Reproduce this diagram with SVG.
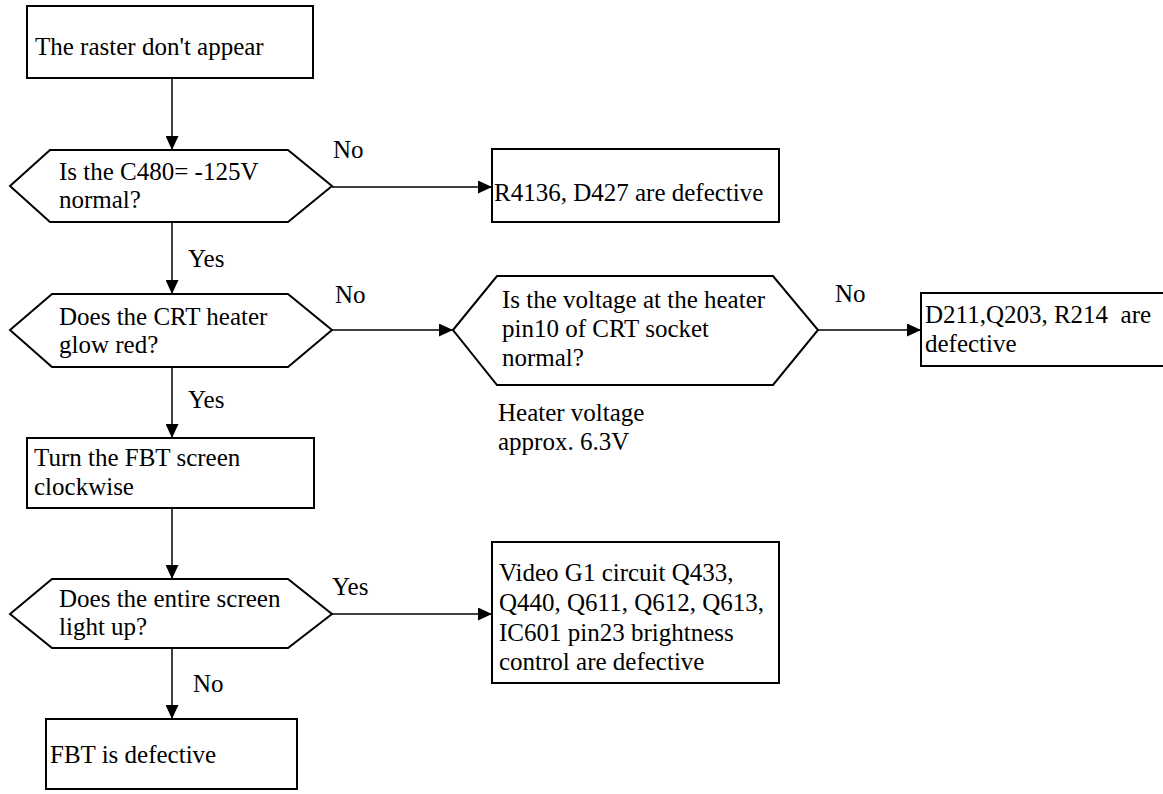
<svg xmlns="http://www.w3.org/2000/svg" width="1163" height="794" viewBox="0 0 1163 794">
<style>
.shape{fill:#fff;stroke:#000;stroke-width:2}
.conn{fill:none;stroke:#000;stroke-width:1.5}
.t{font-family:'Liberation Serif', 'Times New Roman', 'DejaVu Serif', serif;font-size:25px;fill:#000}
</style>
<defs>
<marker id="arr" markerUnits="userSpaceOnUse" markerWidth="15" markerHeight="13" refX="14" refY="6.5" orient="auto">
<path d="M0,0 L14,6.5 L0,13 z" fill="#000"/>
</marker>
</defs>
<rect width="1163" height="794" fill="#fff"/>
<g id="connectors">
<path class="conn" d="M172,78 V150" marker-end="url(#arr)"/>
<path class="conn" d="M332,187 H492" marker-end="url(#arr)"/>
<path class="conn" d="M172,222 V294" marker-end="url(#arr)"/>
<path class="conn" d="M332,330 H453" marker-end="url(#arr)"/>
<path class="conn" d="M818,330 H921" marker-end="url(#arr)"/>
<path class="conn" d="M172,367 V438" marker-end="url(#arr)"/>
<path class="conn" d="M172,508 V579" marker-end="url(#arr)"/>
<path class="conn" d="M332,614 H492" marker-end="url(#arr)"/>
<path class="conn" d="M172,648 V719" marker-end="url(#arr)"/>
<g class="t" font-family="Liberation Serif, serif">
<text x="333" y="158">No</text>
<text x="188" y="267">Yes</text>
<text x="335" y="303">No</text>
<text x="835" y="302">No</text>
<text x="188" y="408">Yes</text>
<text x="332" y="595">Yes</text>
<text x="193" y="692">No</text>
</g>
</g>
<g id="start" class="t">
<rect class="shape" x="27" y="6" width="286" height="72"/>
<text x="35" y="55">The raster don't appear</text>
</g>
<g id="q1" class="t">
<polygon class="shape" points="10,186 50,150 288,150 332,186 288,222 50,222"/>
<text x="59" y="180">Is the C480= -125V</text>
<text x="59" y="208">normal?</text>
</g>
<g id="r1" class="t">
<rect class="shape" x="492" y="149" width="287" height="73"/>
<text x="494" y="201">R4136, D427 are defective</text>
</g>
<g id="q2" class="t">
<polygon class="shape" points="10,330 52,294 288,294 332,330 288,367 52,367"/>
<text x="59" y="325">Does the CRT heater</text>
<text x="59" y="353">glow red?</text>
</g>
<g id="q4" class="t">
<polygon class="shape" points="453,330 497,276 773,276 818,330 773,385 497,385"/>
<text x="502" y="308">Is the voltage at the heater</text>
<text x="502" y="337">pin10 of CRT socket</text>
<text x="502" y="366">normal?</text>
</g>
<g id="note" class="t">
<text x="498" y="421">Heater voltage</text>
<text x="498" y="450">approx. 6.3V</text>
</g>
<g id="r4" class="t">
<rect class="shape" x="921" y="293" width="260" height="73"/>
<text x="925" y="323" xml:space="preserve">D211,Q203, R214  are</text>
<text x="925" y="352">defective</text>
</g>
<g id="step" class="t">
<rect class="shape" x="27" y="438" width="287" height="70"/>
<text x="34" y="466">Turn the FBT screen</text>
<text x="34" y="495">clockwise</text>
</g>
<g id="q3" class="t">
<polygon class="shape" points="10,614 52,579 288,579 332,614 288,648 52,648"/>
<text x="59" y="607">Does the entire screen</text>
<text x="59" y="635">light up?</text>
</g>
<g id="r3" class="t">
<rect class="shape" x="492" y="542" width="287" height="141"/>
<text x="499" y="581">Video G1 circuit Q433,</text>
<text x="499" y="611">Q440, Q611, Q612, Q613,</text>
<text x="499" y="641">IC601 pin23 brightness</text>
<text x="499" y="670">control are defective</text>
</g>
<g id="end" class="t">
<rect class="shape" x="46" y="719" width="251" height="70"/>
<text x="50" y="763">FBT is defective</text>
</g>
</svg>
